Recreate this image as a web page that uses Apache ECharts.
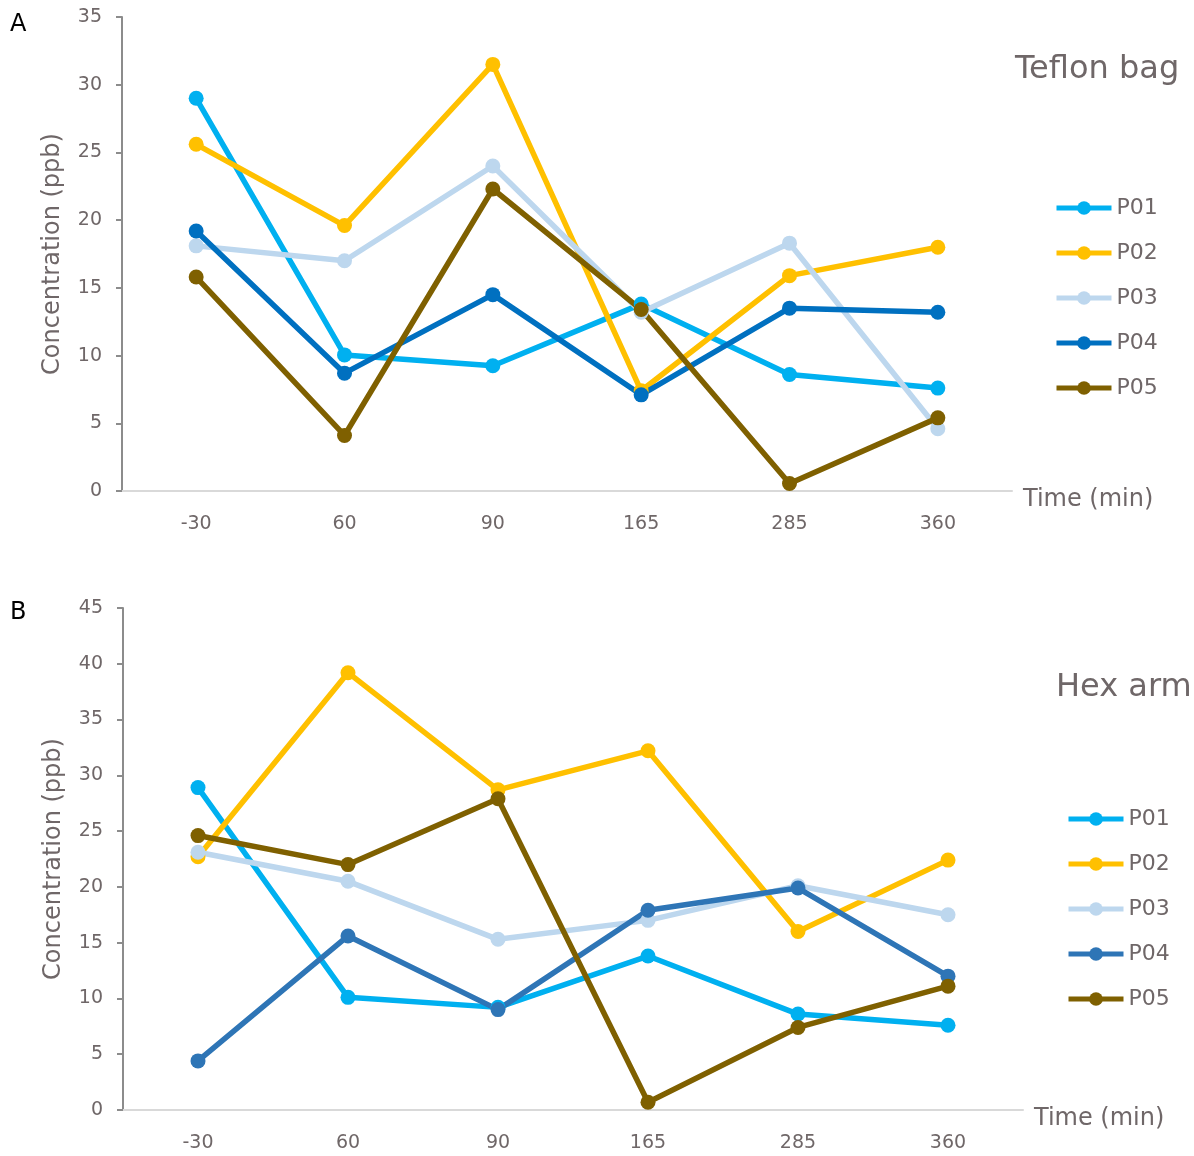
<!DOCTYPE html>
<html>
<head>
<meta charset="utf-8">
<script src="https://cdn.jsdelivr.net/npm/echarts@6/dist/echarts.min.js"></script>
<style>
  html, body { margin: 0; padding: 0; background: #fff; }
  #chartA { position: absolute; left: 0; top: 0; width: 1194px; height: 580px; }
  #chartB { position: absolute; left: 0; top: 580px; width: 1194px; height: 576px; }
</style>
</head>
<body>
<div id="chartA"></div>
<div id="chartB"></div>
<script>
// time points (min)
const times = ['-30', '60', '90', '165', '285', '360'];
const seriesNames = ['P01', 'P02', 'P03', 'P04', 'P05'];

// A - Teflon bag (ppb)
const tefP01 = [29.0, 10.05, 9.25, 13.8, 8.6, 7.6];
const tefP02 = [25.6, 19.6, 31.5, 7.4, 15.9, 18.0];
const tefP03 = [18.1, 17.0, 24.0, 13.2, 18.3, 4.6];
const tefP04 = [19.2, 8.7, 14.5, 7.1, 13.5, 13.2];
const tefP05 = [15.8, 4.1, 22.3, 13.4, 0.55, 5.4];

// B - Hex arm (ppb)
const hexP01 = [28.9, 10.1, 9.2, 13.8, 8.6, 7.6];
const hexP02 = [22.7, 39.2, 28.7, 32.2, 16.0, 22.4];
const hexP03 = [23.1, 20.5, 15.3, 17.0, 20.1, 17.5];
const hexP04 = [4.4, 15.6, 9.0, 17.9, 19.9, 12.0];
const hexP05 = [24.6, 22.0, 27.9, 0.7, 7.4, 11.1];

const tefMax = 35;
const hexMax = 45;

const textColor = '#6f6768';
const fontFamily = 'DejaVu Sans';

function buildOption(cfg) {
  return {
    animation: false,
    textStyle: { fontFamily: fontFamily },
    graphic: [
      {
        type: 'text',
        left: 10,
        top: cfg.letterTop,
        style: { text: cfg.letter, fill: '#000', font: '24px ' + fontFamily }
      },
      {
        type: 'text',
        left: cfg.titleLeft,
        top: cfg.titleTop,
        style: { text: cfg.title, fill: textColor, font: '32px ' + fontFamily }
      }
    ],
    legend: {
      orient: 'vertical',
      left: cfg.legendLeft,
      top: cfg.legendTop,
      itemWidth: 55,
      itemHeight: 17,
      itemGap: 23,
      data: seriesNames,
      lineStyle: { width: 5 },
      textStyle: { color: textColor, fontSize: 22, fontFamily: fontFamily }
    },
    grid: cfg.grid,
    xAxis: {
      type: 'category',
      data: times,
      boundaryGap: true,
      name: 'Time (min)',
      nameLocation: 'end',
      nameGap: 11,
      nameTextStyle: {
        color: textColor, fontSize: 24, fontFamily: fontFamily,
        verticalAlign: 'top', lineHeight: 18
      },
      axisLine: { lineStyle: { color: '#d9d9d9', width: 2 } },
      axisTick: { show: false },
      axisLabel: { color: textColor, fontSize: 19, margin: 24, fontFamily: fontFamily },
      splitLine: { show: false }
    },
    yAxis: {
      type: 'value',
      min: 0,
      max: cfg.yMax,
      interval: 5,
      name: 'Concentration (ppb)',
      nameLocation: 'middle',
      nameGap: 57,
      nameTextStyle: { color: textColor, fontSize: 24, fontFamily: fontFamily },
      axisLine: { show: true, lineStyle: { color: '#8c8c8c', width: 2 } },
      axisTick: { show: true, length: 6, lineStyle: { color: '#8c8c8c', width: 2 } },
      axisLabel: { color: textColor, fontSize: 19, margin: 20, fontFamily: fontFamily },
      splitLine: { show: false }
    },
    series: cfg.data.map((d, i) => ({
      name: seriesNames[i],
      type: 'line',
      data: d,
      symbol: 'circle',
      symbolSize: 15,
      lineStyle: { width: 5.5, color: cfg.colors[i] },
      itemStyle: { color: cfg.colors[i] }
    }))
  };
}

const chartA = echarts.init(document.getElementById('chartA'));
chartA.setOption(buildOption({
  letter: 'A', letterTop: 13,
  title: 'Teflon bag', titleLeft: 1015, titleTop: 54,
  legendLeft: 1049, legendTop: 192,
  grid: { left: 122, top: 17, width: 890, height: 474 },
  yMax: tefMax,
  colors: ['#00b0f0', '#ffc000', '#bdd7ee', '#0070c0', '#7f6000'],
  data: [tefP01, tefP02, tefP03, tefP04, tefP05]
}));

const chartB = echarts.init(document.getElementById('chartB'));
chartB.setOption(buildOption({
  letter: 'B', letterTop: 21,
  title: 'Hex arm', titleLeft: 1056, titleTop: 92,
  legendLeft: 1061, legendTop: 223,
  grid: { left: 123, top: 28, width: 900, height: 502 },
  yMax: hexMax,
  colors: ['#00b0f0', '#ffc000', '#bdd7ee', '#2e75b6', '#7f6000'],
  data: [hexP01, hexP02, hexP03, hexP04, hexP05]
}));

window.addEventListener('resize', () => {
  chartA.resize();
  chartB.resize();
});
</script>
</body>
</html>
